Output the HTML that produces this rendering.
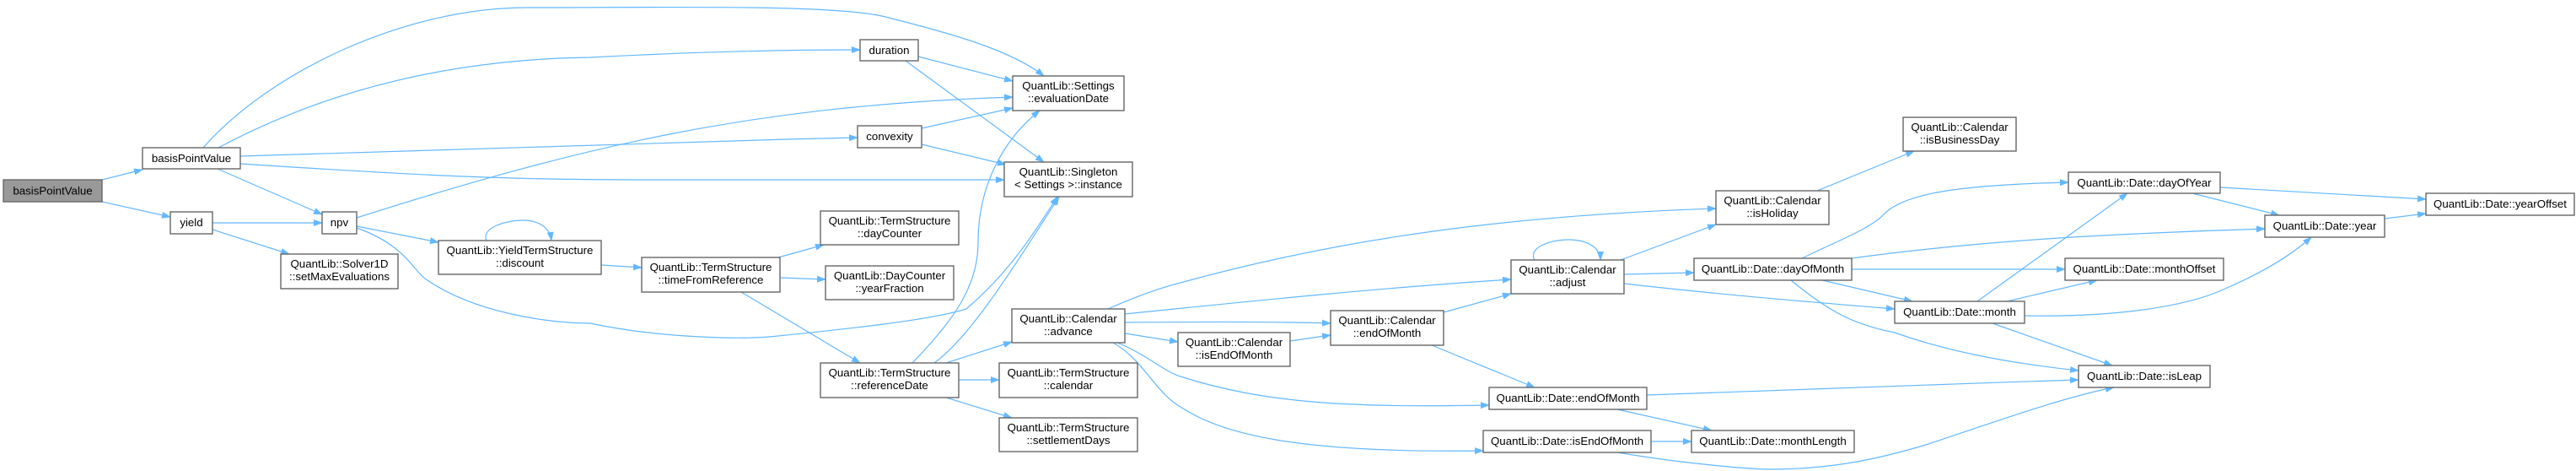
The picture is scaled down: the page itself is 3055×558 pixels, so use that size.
<!DOCTYPE html>
<html><head><meta charset="utf-8"><style>
html,body{margin:0;padding:0;background:#fff;}
svg{display:block;}
text{font-family:"Liberation Sans",Arial,sans-serif;font-size:13.3px;fill:#000;text-anchor:middle;}
.n{fill:#fff;stroke:#666;stroke-width:1.4;}
.e{fill:none;stroke:#63b8ff;stroke-width:1.2;}
</style></head><body>
<svg width="3055" height="558" viewBox="0 0 3055 558" xmlns="http://www.w3.org/2000/svg">
<defs><marker id="a" markerWidth="11" markerHeight="8" refX="10" refY="4" orient="auto" markerUnits="userSpaceOnUse"><path d="M0,0 L11,4 L0,8 z" fill="#63b8ff"/></marker></defs>
<g class="e" marker-end="url(#a)">
<path d="M121,213 L169,201"/>
<path d="M121,239 L202,257"/>
<path d="M241,175 C320,85 480,9 625,9 C800,9 990,5 1050,20 C1130,40 1200,60 1238,90"/>
<path d="M259,175 C400,100 550,70 700,68 C850,60 950,59 1020,59"/>
<path d="M285,185 C600,175 800,168 1017,163"/>
<path d="M285,194 C500,208 600,213 760,213 L1191,213"/>
<path d="M258,200 L382,254"/>
<path d="M252,264 L382,264"/>
<path d="M252,272 L343,301"/>
<path d="M423,258 C700,170 900,125 1201,115"/>
<path d="M423,268 L520,287"/>
<path d="M423,270 C480,290 490,320 504,330 C560,370 650,383 700,383 C780,400 880,403 923,398 C1000,390 1100,380 1146,366 C1200,320 1230,270 1254,233"/>
<path d="M577,285 C570,270 600,261 620,261 C640,261 652,270 654,285"/>
<path d="M713,314 L761,317"/>
<path d="M923,305 L977,290"/>
<path d="M925,329 L979,331"/>
<path d="M879,346 L1020,430"/>
<path d="M1082,430 C1130,380 1160,340 1160,287 C1160,220 1190,165 1233,131"/>
<path d="M1108,430 C1150,400 1200,320 1256,233"/>
<path d="M1122,430 L1200,405"/>
<path d="M1137,450 L1185,450"/>
<path d="M1122,471 L1200,495"/>
<path d="M1314,366 C1350,350 1380,340 1400,335 C1600,280 1800,255 2035,247"/>
<path d="M1334,372 C1500,355 1650,340 1792,331"/>
<path d="M1334,382 C1450,381 1520,381 1578,383"/>
<path d="M1334,395 L1397,405"/>
<path d="M1325,406 C1360,420 1380,440 1400,446 C1500,478 1600,483 1766,480"/>
<path d="M1320,406 C1355,425 1370,465 1400,482 C1450,515 1540,537 1759,534"/>
<path d="M1530,404 L1578,397"/>
<path d="M1712,370 L1792,348"/>
<path d="M1698,409 L1820,459"/>
<path d="M1820,308 C1812,295 1835,284 1860,284 C1885,284 1898,295 1898,308"/>
<path d="M1922,308 L2035,266"/>
<path d="M1926,325 L2009,323"/>
<path d="M1926,336 C2050,350 2150,358 2247,366"/>
<path d="M1953,468 C2150,462 2300,455 2465,450"/>
<path d="M1918,485 L2030,510"/>
<path d="M1958,523 L2006,523"/>
<path d="M1918,536 C2000,550 2080,556 2100,556 C2180,556 2240,540 2284,527 C2380,495 2450,470 2507,459"/>
<path d="M2155,226 L2270,179"/>
<path d="M2137,306 C2180,285 2220,270 2235,253 C2260,228 2330,219 2453,216"/>
<path d="M2196,306 C2350,285 2500,277 2686,271"/>
<path d="M2196,319 L2449,319"/>
<path d="M2161,332 L2268,357"/>
<path d="M2124,332 C2170,370 2200,385 2247,394 C2320,420 2400,432 2465,439"/>
<path d="M2345,357 L2523,229"/>
<path d="M2380,357 L2487,332"/>
<path d="M2401,374 C2500,376 2590,365 2639,342 C2690,320 2720,300 2741,281"/>
<path d="M2363,383 L2505,433"/>
<path d="M2633,222 L2877,236"/>
<path d="M2600,229 L2703,255"/>
<path d="M2828,259 L2877,253"/>
<path d="M1089,67 L1201,96"/>
<path d="M1074,72 L1238,192"/>
<path d="M1093,152 L1201,128"/>
<path d="M1093,171 L1193,195"/>
</g>
<g>
<rect x="4" y="213" width="117" height="26" fill="#999" stroke="#666" stroke-width="1.4"/><text x="62.5" y="230.5">basisPointValue</text>
<rect class="n" x="169" y="175" width="116" height="25"/><text x="227" y="192">basisPointValue</text>
<rect class="n" x="202" y="251" width="50" height="26"/><text x="227" y="268">yield</text>
<rect class="n" x="382" y="251" width="41" height="26"/><text x="402.5" y="268">npv</text>
<rect class="n" x="333" y="301" width="139" height="41"/><text x="402.5" y="317">QuantLib::Solver1D</text><text x="402.5" y="332">::setMaxEvaluations</text>
<rect class="n" x="520" y="285" width="193" height="40"/><text x="616.5" y="301">QuantLib::YieldTermStructure</text><text x="616.5" y="316">::discount</text>
<rect class="n" x="1020" y="47" width="69" height="25"/><text x="1054.5" y="64">duration</text>
<rect class="n" x="1201" y="90" width="132" height="41"/><text x="1267" y="106">QuantLib::Settings</text><text x="1267" y="121">::evaluationDate</text>
<rect class="n" x="1017" y="149" width="76" height="26"/><text x="1055" y="166">convexity</text>
<rect class="n" x="1191" y="192" width="152" height="41"/><text x="1267" y="208">QuantLib::Singleton</text><text x="1267" y="223">&lt; Settings &gt;::instance</text>
<rect class="n" x="973" y="250" width="164" height="40"/><text x="1055" y="266">QuantLib::TermStructure</text><text x="1055" y="281">::dayCounter</text>
<rect class="n" x="761" y="305" width="164" height="41"/><text x="843" y="321">QuantLib::TermStructure</text><text x="843" y="336">::timeFromReference</text>
<rect class="n" x="979" y="315" width="152" height="40"/><text x="1055" y="331">QuantLib::DayCounter</text><text x="1055" y="346">::yearFraction</text>
<rect class="n" x="1200" y="366" width="134" height="40"/><text x="1267" y="382">QuantLib::Calendar</text><text x="1267" y="397">::advance</text>
<rect class="n" x="973" y="430" width="164" height="41"/><text x="1055" y="446">QuantLib::TermStructure</text><text x="1055" y="461">::referenceDate</text>
<rect class="n" x="1185" y="430" width="164" height="41"/><text x="1267" y="446">QuantLib::TermStructure</text><text x="1267" y="461">::calendar</text>
<rect class="n" x="1185" y="495" width="164" height="40"/><text x="1267" y="511">QuantLib::TermStructure</text><text x="1267" y="526">::settlementDays</text>
<rect class="n" x="1397" y="394" width="133" height="40"/><text x="1463.5" y="410">QuantLib::Calendar</text><text x="1463.5" y="425">::isEndOfMonth</text>
<rect class="n" x="1578" y="368" width="134" height="41"/><text x="1645" y="384">QuantLib::Calendar</text><text x="1645" y="399">::endOfMonth</text>
<rect class="n" x="1792" y="308" width="134" height="40"/><text x="1859" y="324">QuantLib::Calendar</text><text x="1859" y="339">::adjust</text>
<rect class="n" x="2035" y="226" width="134" height="40"/><text x="2102" y="242">QuantLib::Calendar</text><text x="2102" y="257">::isHoliday</text>
<rect class="n" x="2009" y="306" width="187" height="26"/><text x="2102.5" y="323">QuantLib::Date::dayOfMonth</text>
<rect class="n" x="1766" y="459" width="187" height="26"/><text x="1859.5" y="476">QuantLib::Date::endOfMonth</text>
<rect class="n" x="1759" y="510" width="199" height="26"/><text x="1858.5" y="527">QuantLib::Date::isEndOfMonth</text>
<rect class="n" x="2006" y="510" width="193" height="26"/><text x="2102.5" y="527">QuantLib::Date::monthLength</text>
<rect class="n" x="2257" y="139" width="134" height="40"/><text x="2324" y="155">QuantLib::Calendar</text><text x="2324" y="170">::isBusinessDay</text>
<rect class="n" x="2453" y="204" width="180" height="25"/><text x="2543" y="221">QuantLib::Date::dayOfYear</text>
<rect class="n" x="2877" y="229" width="176" height="26"/><text x="2965" y="246">QuantLib::Date::yearOffset</text>
<rect class="n" x="2686" y="255" width="142" height="26"/><text x="2757" y="272">QuantLib::Date::year</text>
<rect class="n" x="2449" y="306" width="188" height="26"/><text x="2543" y="323">QuantLib::Date::monthOffset</text>
<rect class="n" x="2247" y="357" width="154" height="26"/><text x="2324" y="374">QuantLib::Date::month</text>
<rect class="n" x="2465" y="433" width="156" height="26"/><text x="2543" y="450">QuantLib::Date::isLeap</text>
</g>
</svg>
</body></html>
